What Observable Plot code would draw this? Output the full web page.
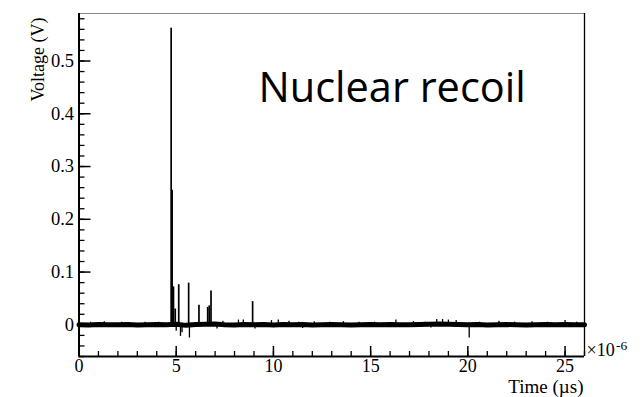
<!DOCTYPE html>
<html>
<head>
<meta charset="utf-8">
<script src="https://cdn.jsdelivr.net/npm/d3@7"></script>
<script src="https://cdn.jsdelivr.net/npm/@observablehq/plot@0.6"></script>
<style>
  html, body { margin: 0; padding: 0; background: white; }
</style>
</head>
<body>
<div id="chart"></div>
<script>
// ---- Data ----
const xTicks = [0, 5, 10, 15, 20, 25];
const xTickLabels = ["0", "5", "10", "15", "20", "25"];
const yTicks = [0, 0.1, 0.2, 0.3, 0.4, 0.5];
const yTickLabels = ["0", "0.1", "0.2", "0.3", "0.4", "0.5"];

// baseline of the waveform (time in µs, voltage in V)
const baseTime = [0, 0.5, 1, 1.5, 2, 2.5, 3, 3.5, 4, 4.5, 5, 5.5, 6, 6.5, 7, 7.5, 8, 8.5, 9, 9.5,
  10, 10.5, 11, 11.5, 12, 12.5, 13, 13.5, 14, 14.5, 15, 15.5, 16, 16.5, 17, 17.5, 18, 18.5, 19, 19.5,
  20, 20.5, 21, 21.5, 22, 22.5, 23, 23.5, 24, 24.5, 25, 25.5, 26];
const baseVolt = [0.000, -0.0005, 0.0005, 0.000, 0.000, 0.0005, -0.0005, 0.000, 0.0005, 0.000,
  0.001, -0.001, 0.0005, 0.001, 0.0015, 0.000, -0.0005, 0.0005, 0.000, 0.0005,
  -0.0005, 0.0005, 0.000, 0.0005, -0.0005, 0.000, 0.0005, 0.000, -0.0005, 0.000,
  0.0005, 0.000, 0.0005, 0.000, 0.000, 0.0005, 0.001, 0.0015, 0.001, 0.0005,
  0.000, 0.0005, -0.0005, 0.000, 0.0005, 0.000, -0.0005, 0.000, 0.0005, 0.000,
  0.0005, 0.000, 0.000];

// pulses (spikes) of the nuclear recoil signal
const pulseTime = [4.74, 4.79, 4.86, 4.95, 5.13, 5.64, 6.17, 6.62, 6.70, 6.79, 8.93];
const pulseVolt = [0.562, 0.255, 0.072, 0.030, 0.076, 0.079, 0.037, 0.033, 0.036, 0.064, 0.044];

// small noise glitches around the baseline
const glitchTime = [0.6, 1.3, 2.2, 3.4, 4.1, 7.4, 8.2, 8.45, 9.9, 10.25, 10.8, 11.3, 12.1, 12.9, 13.6, 14.4, 15.2, 16.3, 17.2, 17.8,
  18.4, 18.7, 19.0, 19.4, 20.6, 21.6, 22.4, 23.3, 24.1, 25.0, 25.6,
  0.9, 2.7, 3.8, 5.0, 5.22, 5.3, 5.68, 7.1, 9.05, 10.5, 11.5, 13.1, 14.8, 16.7, 18.1, 20.07, 21.2, 22.9, 24.5];
const glitchVolt = [0.005, 0.006, 0.005, 0.005, 0.005, 0.007, 0.009, 0.009, 0.008, 0.009, 0.007, 0.005, 0.006, 0.005, 0.006, 0.005, 0.005, 0.009, 0.006, 0.005,
  0.010, 0.010, 0.009, 0.008, 0.005, 0.007, 0.005, 0.006, 0.005, 0.008, 0.005,
  -0.005, -0.005, -0.005, -0.012, -0.022, -0.015, -0.025, -0.008, -0.008, -0.005, -0.007, -0.005, -0.005, -0.005, -0.006, -0.025, -0.005, -0.005, -0.005];

const xDomain = [0, 26];
const yDomain = [-0.06, 0.59];

// ---- Tables for Plot ----
const baseline = baseTime.map((t, i) => ({t, v: baseVolt[i]}));
const pulses = pulseTime.map((t, i) => ({t, v: pulseVolt[i]}));
const glitches = glitchTime.map((t, i) => ({t, v: glitchVolt[i]}));
const xMinor = d3.range(0, 27, 1);
const yMinor = d3.range(-6, 60, 2).map(d => d / 100);

const W = 641, H = 397;
const mL = 78.5, mR = 57, mT = 13, mB = 41;
const plotW = W - mL - mR, plotH = H - mT - mB;

const chart = Plot.plot({
  width: W, height: H,
  marginLeft: mL, marginRight: mR, marginTop: mT, marginBottom: mB,
  x: {domain: xDomain},
  y: {domain: yDomain},
  style: {fontFamily: "'Liberation Serif', 'DejaVu Serif', serif", fontSize: "18px", background: "white", color: "black", overflow: "visible"},
  marks: [
    // waveform
    Plot.lineY(baseline, {x: "t", y: "v", stroke: "black", strokeWidth: 5}),
    Plot.ruleX(glitches, {x: "t", y1: 0, y2: "v", stroke: "black", strokeWidth: 1.3}),
    Plot.ruleX(pulses, {x: "t", y1: 0, y2: "v", stroke: "black", strokeWidth: 1.7}),
    // frame
    Plot.ruleY([yDomain[1]], {stroke: "#888", strokeWidth: 1.2}),
    Plot.ruleX([xDomain[1]], {stroke: "black", strokeWidth: 1.3}),
    Plot.ruleX([xDomain[0]], {stroke: "black", strokeWidth: 2}),
    Plot.ruleY([yDomain[0]], {stroke: "black", strokeWidth: 2}),
    // inward ticks
    Plot.ruleX(xMinor, {x: d => d, insetTop: plotH - 5, stroke: "black", strokeWidth: 1.3}),
    Plot.ruleX(xTicks, {x: d => d, insetTop: plotH - 10, stroke: "black", strokeWidth: 1.5}),
    Plot.ruleY(yMinor, {y: d => d, insetRight: plotW - 6, stroke: "black", strokeWidth: 1.3}),
    Plot.ruleY(yTicks, {y: d => d, insetRight: plotW - 12, stroke: "black", strokeWidth: 1.5}),
    // tick labels
    Plot.axisX({ticks: xTicks, tickSize: 0, tickPadding: 3, label: null, tickFormat: (d, i) => xTickLabels[i], fontSize: 18}),
    Plot.axisY({ticks: yTicks, tickSize: 0, tickPadding: 5, label: null, tickFormat: (d, i) => yTickLabels[i], fontSize: 18.5}),
    // axis titles
    Plot.text(["Voltage (V)"], {frameAnchor: "top-left", dx: -48, dy: 46, rotate: -90, textAnchor: "middle", fontSize: 18}),
    Plot.text(["Time (\u00b5s)"], {frameAnchor: "bottom-right", dx: -1, dy: 36.5, textAnchor: "end", fontSize: 19}),
    Plot.text(["\u00d710"], {frameAnchor: "bottom-right", dx: 2, dy: -1, textAnchor: "start", fontSize: 18}),
    Plot.text(["-6"], {frameAnchor: "bottom-right", dx: 31.5, dy: -7, textAnchor: "start", fontSize: 13.5}),
    // annotation
    Plot.text(["Nuclear recoil"], {frameAnchor: "top-left", dx: 179.5, dy: 59, textAnchor: "start", fontSize: 41.5, fontFamily: "'Open Sans', Lato, sans-serif"})
  ]
});
document.getElementById("chart").appendChild(chart);
</script>
</body>
</html>
